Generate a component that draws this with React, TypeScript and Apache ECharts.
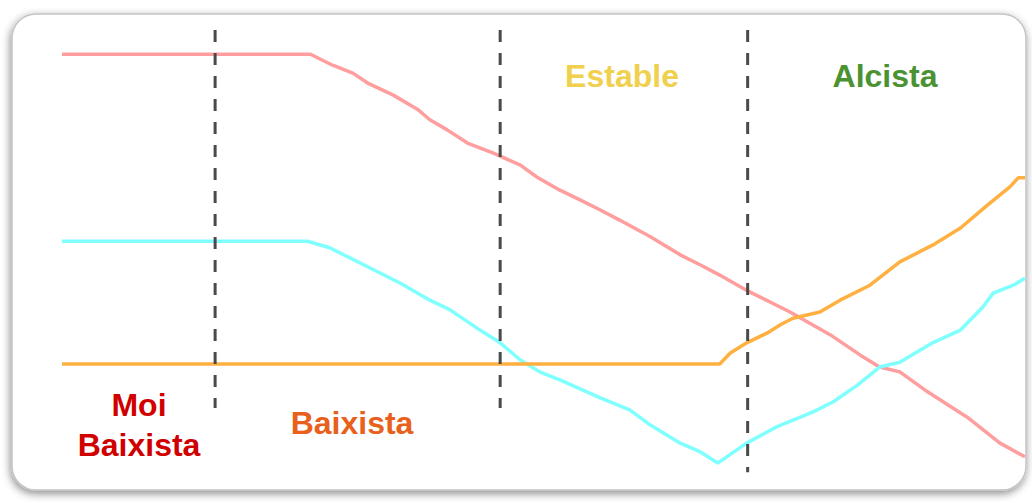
import React, { useEffect, useRef } from "react";
import * as echarts from "echarts";

// x: time (0..100), y: price level (0..100)
const pinkLine: [number, number][] = [
  [0, 94.5], [25.8, 94.5], [28.1, 92.0], [30.2, 90.2], [31.7, 88.0], [34.4, 85.2],
  [36.9, 82.0], [38.2, 79.6], [40.0, 77.3], [42.1, 74.3], [44.8, 72.0], [47.6, 69.3],
  [49.3, 66.6], [51.7, 63.6], [53.8, 61.4], [55.9, 59.1], [57.9, 56.8], [61.1, 53.0],
  [64.2, 48.9], [66.3, 46.6], [68.3, 44.3], [71.2, 40.7], [75.6, 35.9], [79.8, 30.7],
  [82.9, 26.1], [84.9, 23.4], [87.0, 22.3], [89.6, 18.2], [94.0, 12.0], [97.4, 6.1],
  [100, 3.0],
];

const cyanLine: [number, number][] = [
  [0, 52.0], [25.5, 52.0], [27.8, 50.5], [29.9, 48.2], [32.0, 45.9], [35.1, 42.5],
  [38.2, 38.6], [40.3, 36.4], [43.4, 31.8], [45.5, 28.9], [47.6, 25.0], [49.6, 22.3],
  [51.7, 20.5], [55.9, 16.4], [59.0, 13.6], [61.1, 10.2], [64.2, 6.1], [66.3, 4.1],
  [68.1, 1.6], [71.1, 6.1], [74.2, 9.8], [78.0, 13.2], [80.1, 15.5], [82.6, 19.3],
  [84.9, 23.4], [87.0, 24.5], [90.4, 28.9], [93.3, 31.8], [95.6, 37.0], [96.7, 40.2],
  [98.8, 42.0], [100, 43.6],
];

const orangeLine: [number, number][] = [
  [0, 24.1], [68.3, 24.1], [69.4, 26.6], [71.1, 28.9], [73.2, 31.1], [74.6, 33.0],
  [75.9, 34.5], [78.7, 35.9], [80.8, 38.6], [83.9, 42.0], [87.0, 47.3], [90.4, 51.1],
  [93.3, 55.0], [96.1, 60.2], [98.4, 64.3], [99.3, 66.4], [100, 66.4],
];

// phase dividers: x position, bottom y
const dividerX = [15.9, 45.5, 71.2];
const dividerBottom = [14.1, 14.1, -0.5];
const dividerTop = 100;

const phaseLabels = ["Moi\nBaixista", "Baixista", "Estable", "Alcista"];
const phaseColors = ["#D00000", "#E8601C", "#F0D04C", "#4A9232"];

export default function App() {
  const ref = useRef<HTMLDivElement>(null);
  useEffect(() => {
    if (!ref.current) return;
    const chart = echarts.init(ref.current, null, { renderer: "svg" });
    const font = "'Liberation Sans', Arial, sans-serif";
    const dividerSeries = dividerX.map((x, i) => ({
      type: "line",
      data: [[x, dividerTop], [x, dividerBottom[i]]],
      symbol: "none",
      clip: false,
      silent: true,
      z: 3,
      lineStyle: { color: "#4a4a4a", width: 3, type: [12, 11] },
    }));
    chart.setOption({
      animation: false,
      grid: { left: 62, right: 7, top: 30, bottom: 11 },
      xAxis: { type: "value", min: 0, max: 100, show: false },
      yAxis: { type: "value", min: -5, max: 100, show: false },
      graphic: [
        {
          type: "rect",
          z: -10,
          shape: { x: 12, y: 14, width: 1014, height: 476, r: 24 },
          style: {
            fill: "#ffffff",
            stroke: "#c4c4c4",
            lineWidth: 1.5,
            shadowBlur: 8,
            shadowColor: "rgba(0,0,0,0.45)",
            shadowOffsetX: -1,
            shadowOffsetY: 3,
          },
        },
        {
          type: "text", z: 10, x: 139, y: 425,
          style: { text: phaseLabels[0], fill: phaseColors[0], font: `bold 32px ${font}`, align: "center", verticalAlign: "middle", lineHeight: 40 },
        },
        {
          type: "text", z: 10, x: 352, y: 423,
          style: { text: phaseLabels[1], fill: phaseColors[1], font: `bold 32px ${font}`, align: "center", verticalAlign: "middle" },
        },
        {
          type: "text", z: 10, x: 622, y: 76,
          style: { text: phaseLabels[2], fill: phaseColors[2], font: `bold 32px ${font}`, align: "center", verticalAlign: "middle" },
        },
        {
          type: "text", z: 10, x: 885, y: 76,
          style: { text: phaseLabels[3], fill: phaseColors[3], font: `bold 32px ${font}`, align: "center", verticalAlign: "middle" },
        },
      ],
      series: [
        {
          type: "line", data: pinkLine, symbol: "none", z: 2,
          lineStyle: { color: "#FF9E9E", width: 3.5 },
        },
        {
          type: "line", data: cyanLine, symbol: "none", z: 2,
          lineStyle: { color: "#80FFFF", width: 3.5 },
        },
        {
          type: "line", data: orangeLine, symbol: "none", z: 2,
          lineStyle: { color: "#FFB040", width: 3.5 },
        },
        ...dividerSeries,
      ],
    });
    return () => chart.dispose();
  }, []);
  return (
    <div
      ref={ref}
      style={{ position: "fixed", left: 0, top: 0, width: 1032, height: 503, background: "#ffffff" }}
    />
  );
}
